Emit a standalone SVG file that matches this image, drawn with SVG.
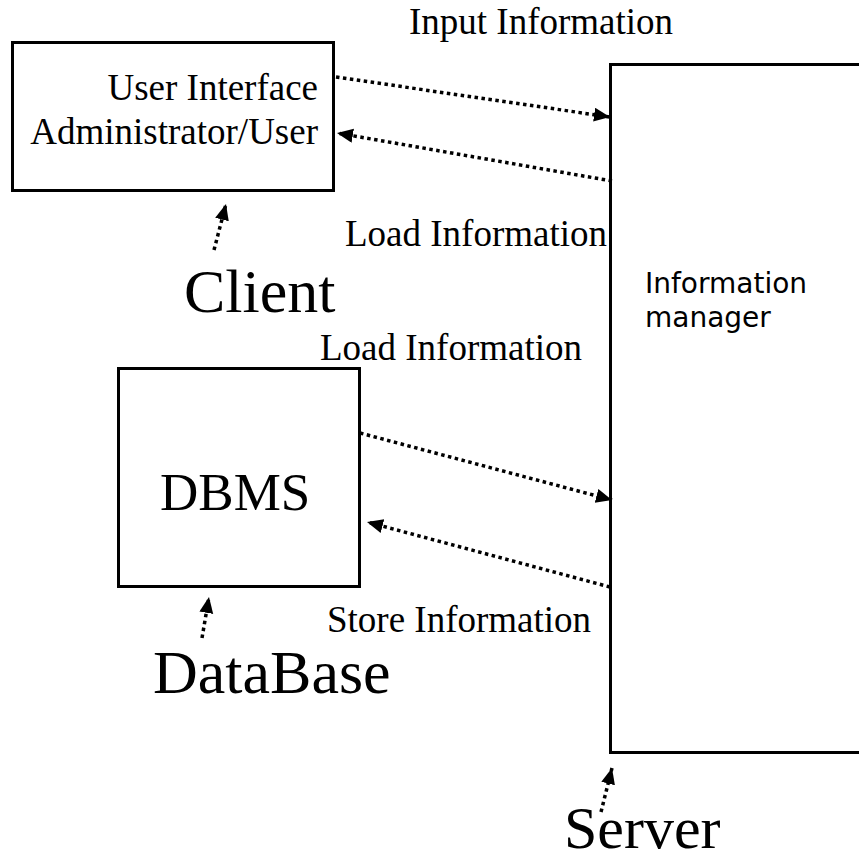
<svg xmlns="http://www.w3.org/2000/svg" width="859" height="863" viewBox="0 0 859 863">
<style>
.box{fill:#fff;stroke:#000;stroke-width:3}
.t{font-family:"Liberation Serif","Times New Roman",serif;fill:#000}
.m{font-size:37px}
.b{font-size:62px}
.s{font-family:"DejaVu Sans",sans-serif;font-size:28px;fill:#000}
.c{fill:none;stroke:#000;stroke-width:3.5;stroke-dasharray:3.5 3.5}
</style>
<defs>
<marker id="ah" markerUnits="userSpaceOnUse" markerWidth="20" markerHeight="16" refX="16" refY="7" orient="auto">
<path d="M0,0 L16,7 L0,14 Z" fill="#000"/>
</marker>
</defs>
<rect width="859" height="863" fill="#fff"/>
<g id="server">
<rect class="box" x="610.5" y="64.5" width="260" height="688"/>
<text class="s" x="645" y="293">Information</text>
<text class="s" x="645" y="327">manager</text>
<text class="t" x="564" y="848" font-size="60">Server</text>
</g>
<g id="client">
<rect class="box" x="12.5" y="42.5" width="321" height="148"/>
<text class="t m" x="318" y="100" text-anchor="end">User Interface</text>
<text class="t m" x="318" y="144" text-anchor="end">Administrator/User</text>
<text class="t b" x="184" y="312">Client</text>
</g>
<g id="dbms">
<rect class="box" x="118.5" y="368.5" width="241" height="218"/>
<text class="t" x="160" y="510" font-size="53">DBMS</text>
<text class="t b" x="153" y="693">DataBase</text>
</g>
<g id="labels">
<text class="t m" x="409" y="34">Input Information</text>
<text class="t m" x="345" y="246">Load Information</text>
<text class="t m" x="320" y="360">Load Information</text>
<text class="t m" x="327" y="632">Store Information</text>
</g>
<g id="connectors">
<line class="c" x1="336" y1="77" x2="610" y2="117" marker-end="url(#ah)"/>
<line class="c" x1="612" y1="181" x2="337" y2="133" marker-end="url(#ah)"/>
<line class="c" x1="214" y1="250" x2="226" y2="204" marker-end="url(#ah)"/>
<line class="c" x1="360" y1="433" x2="612" y2="500" marker-end="url(#ah)"/>
<line class="c" x1="610" y1="587" x2="367" y2="522" marker-end="url(#ah)"/>
<line class="c" x1="202" y1="638" x2="209" y2="597" marker-end="url(#ah)"/>
<line class="c" x1="601" y1="812" x2="612" y2="768" marker-end="url(#ah)"/>
</g>
</svg>
